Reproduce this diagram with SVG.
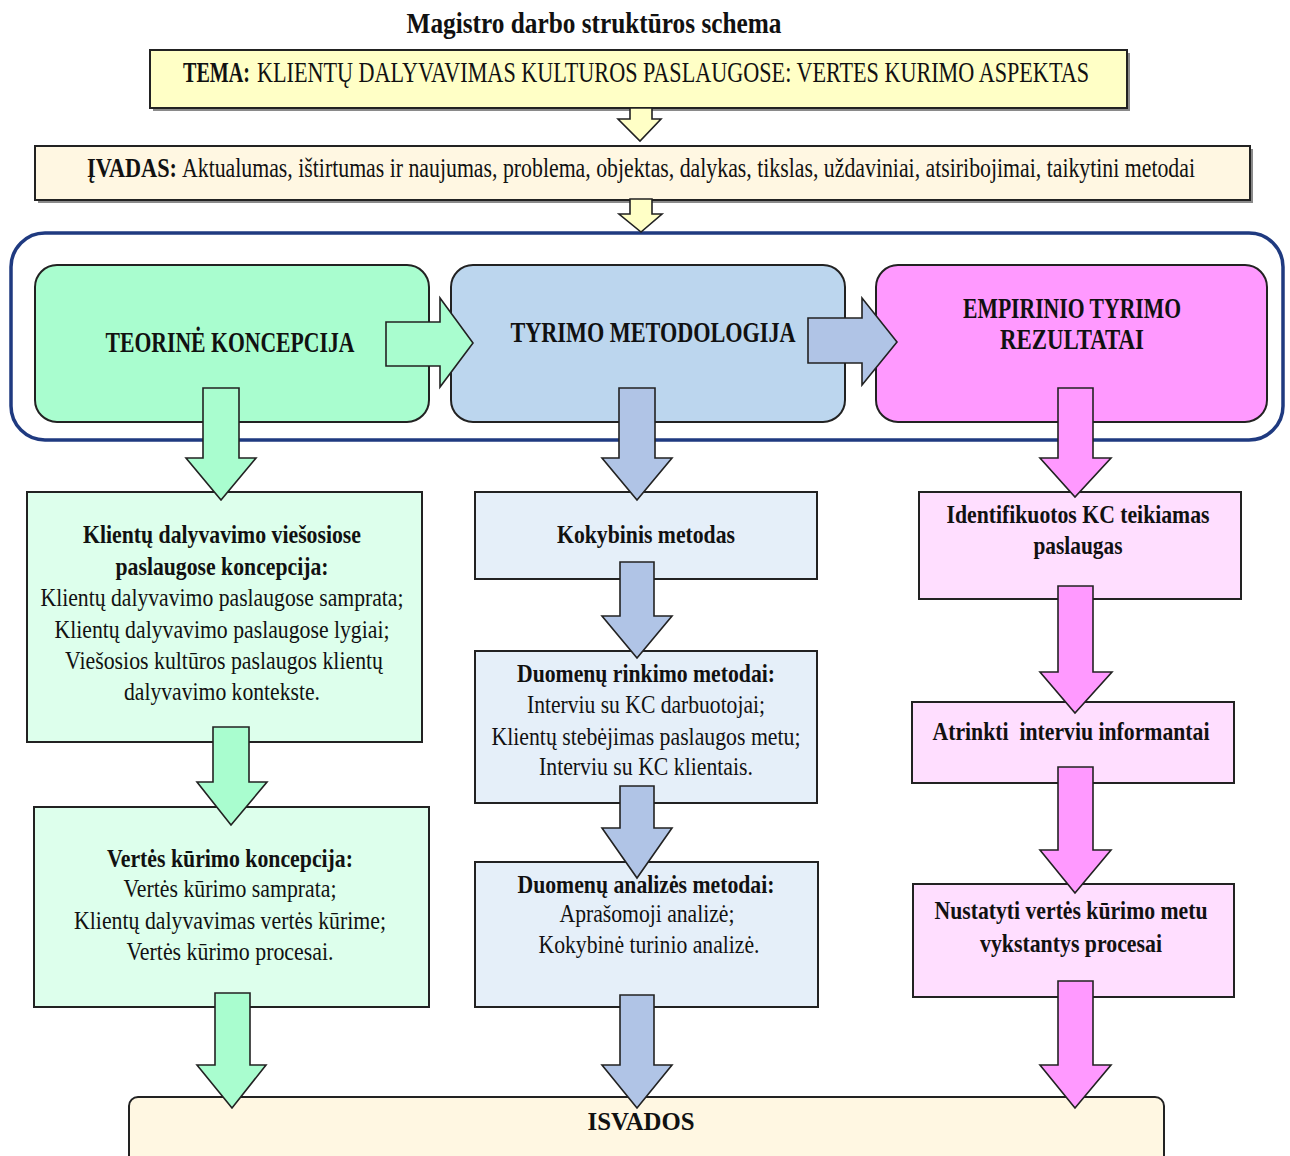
<svg xmlns="http://www.w3.org/2000/svg" width="1290" height="1156" viewBox="0 0 1290 1156">
<style>
text{font-family:"Liberation Serif","Times New Roman",serif;fill:#111;}
.b{font-weight:bold;}
.t{font-size:26px;}
.box{stroke:#222;stroke-width:2;}
.arr{stroke:#222;stroke-width:1.6;stroke-linejoin:miter;}
.g{fill:#A9FDCF;} .gl{fill:#DDFFEC;}
.bl{fill:#BCD6EE;} .bll{fill:#E5EFF9;} .ba{fill:#B0C4E6;}
.p{fill:#FF99FF;} .pl{fill:#FFDEFF;}
.y{fill:#FFFFC6;} .c{fill:#FFF7E2;}
.sh{fill:#8a8a8a;}
</style>
<rect width="1290" height="1156" fill="#fff"/>
<text x="594" y="33" text-anchor="middle" class="b" font-size="29" textLength="375" lengthAdjust="spacingAndGlyphs">Magistro darbo struktūros schema</text>

<g id="tema">
<rect x="153" y="53" width="977" height="58" class="sh"/>
<rect x="150" y="50" width="977" height="58" class="box y"/>
<text transform="translate(183,82) scale(1,1.45)" class="b" font-size="20" textLength="67" lengthAdjust="spacingAndGlyphs">TEMA:</text>
<text transform="translate(257,82) scale(1,1.45)" font-size="20" textLength="832" lengthAdjust="spacingAndGlyphs">KLIENTŲ DALYVAVIMAS KULTUROS PASLAUGOSE: VERTES KURIMO ASPEKTAS</text>
</g>
<g id="ivadas">
<rect x="38" y="149" width="1215" height="54" class="sh"/>
<rect x="35" y="146" width="1215" height="54" class="box c"/>
<text transform="translate(87,177) scale(1,1.33)" class="b" font-size="21" textLength="90" lengthAdjust="spacingAndGlyphs">ĮVADAS:</text>
<text transform="translate(182,177) scale(1,1.33)" font-size="21" textLength="1013" lengthAdjust="spacingAndGlyphs">Aktualumas, ištirtumas ir naujumas, problema, objektas, dalykas, tikslas, uždaviniai, atsiribojimai, taikytini metodai</text>
</g>

<g id="container">
<rect x="11" y="233" width="1272" height="207" rx="34" fill="#fff" stroke="#1F3A80" stroke-width="3.5"/>
</g>

<g id="teorine">
<rect x="35" y="265" width="394" height="157" rx="22" class="box g"/>
<text x="230" y="352" text-anchor="middle" class="b" font-size="29" textLength="249" lengthAdjust="spacingAndGlyphs">TEORINĖ KONCEPCIJA</text>
</g>
<g id="metodologija">
<rect x="451" y="265" width="394" height="157" rx="22" class="box bl"/>
<text x="653" y="342" text-anchor="middle" class="b" font-size="29" textLength="285" lengthAdjust="spacingAndGlyphs">TYRIMO METODOLOGIJA</text>
</g>
<g id="empirinio">
<rect x="876" y="265" width="391" height="157" rx="22" class="box p"/>
<text x="1072" y="318" text-anchor="middle" class="b" font-size="29" textLength="218" lengthAdjust="spacingAndGlyphs">EMPIRINIO TYRIMO</text>
<text x="1072" y="349" text-anchor="middle" class="b" font-size="29" textLength="144" lengthAdjust="spacingAndGlyphs">REZULTATAI</text>
</g>

<g id="klientu-koncepcija">
<rect x="27" y="492" width="395" height="250" class="box gl"/>
<g class="t" text-anchor="middle">
<text x="222" y="543" class="b" textLength="278" lengthAdjust="spacingAndGlyphs">Klientų dalyvavimo viešosiose</text>
<text x="222" y="575" class="b" textLength="213" lengthAdjust="spacingAndGlyphs">paslaugose koncepcija:</text>
<text x="222" y="606" textLength="363" lengthAdjust="spacingAndGlyphs">Klientų dalyvavimo paslaugose samprata;</text>
<text x="222" y="638" textLength="335" lengthAdjust="spacingAndGlyphs">Klientų dalyvavimo paslaugose lygiai;</text>
<text x="224" y="669" textLength="318" lengthAdjust="spacingAndGlyphs">Viešosios kultūros paslaugos klientų</text>
<text x="222" y="700" textLength="196" lengthAdjust="spacingAndGlyphs">dalyvavimo kontekste.</text>
</g>
</g>
<g id="vertes-koncepcija">
<rect x="34" y="807" width="395" height="200" class="box gl"/>
<g class="t" text-anchor="middle">
<text x="230" y="867" class="b" textLength="246" lengthAdjust="spacingAndGlyphs">Vertės kūrimo koncepcija:</text>
<text x="230" y="897" textLength="213" lengthAdjust="spacingAndGlyphs">Vertės kūrimo samprata;</text>
<text x="230" y="929" textLength="312" lengthAdjust="spacingAndGlyphs">Klientų dalyvavimas vertės kūrime;</text>
<text x="230" y="960" textLength="207" lengthAdjust="spacingAndGlyphs">Vertės kūrimo procesai.</text>
</g>
</g>

<g id="kokybinis">
<rect x="475" y="492" width="342" height="87" class="box bll"/>
<text x="646" y="543" text-anchor="middle" class="t b" textLength="178" lengthAdjust="spacingAndGlyphs">Kokybinis metodas</text>
</g>
<g id="rinkimo">
<rect x="475" y="651" width="342" height="152" class="box bll"/>
<g class="t" text-anchor="middle">
<text x="646" y="682" class="b" textLength="258" lengthAdjust="spacingAndGlyphs">Duomenų rinkimo metodai:</text>
<text x="646" y="713" textLength="238" lengthAdjust="spacingAndGlyphs">Interviu su KC darbuotojai;</text>
<text x="646" y="745" textLength="309" lengthAdjust="spacingAndGlyphs">Klientų stebėjimas paslaugos metu;</text>
<text x="646" y="775" textLength="214" lengthAdjust="spacingAndGlyphs">Interviu su KC klientais.</text>
</g>
</g>
<g id="analizes">
<rect x="475" y="862" width="343" height="145" class="box bll"/>
<g class="t" text-anchor="middle">
<text x="646" y="893" class="b" textLength="257" lengthAdjust="spacingAndGlyphs">Duomenų analizės metodai:</text>
<text x="647" y="922" textLength="175" lengthAdjust="spacingAndGlyphs">Aprašomoji analizė;</text>
<text x="649" y="953" textLength="221" lengthAdjust="spacingAndGlyphs">Kokybinė turinio analizė.</text>
</g>
</g>

<g id="identifikuotos">
<rect x="919" y="492" width="322" height="107" class="box pl"/>
<text x="1078" y="523" text-anchor="middle" class="t b" textLength="263" lengthAdjust="spacingAndGlyphs">Identifikuotos KC teikiamas</text>
<text x="1078" y="554" text-anchor="middle" class="t b" textLength="89" lengthAdjust="spacingAndGlyphs">paslaugas</text>
</g>
<g id="atrinkti">
<rect x="912" y="702" width="322" height="81" class="box pl"/>
<text x="1071" y="740" text-anchor="middle" class="t b" textLength="277" lengthAdjust="spacingAndGlyphs" xml:space="preserve">Atrinkti  interviu informantai</text>
</g>
<g id="nustatyti">
<rect x="913" y="884" width="321" height="113" class="box pl"/>
<text x="1071" y="919" text-anchor="middle" class="t b" textLength="273" lengthAdjust="spacingAndGlyphs">Nustatyti vertės kūrimo metu</text>
<text x="1071" y="952" text-anchor="middle" class="t b" textLength="182" lengthAdjust="spacingAndGlyphs">vykstantys procesai</text>
</g>

<g id="isvados">
<rect x="129" y="1097" width="1035" height="80" rx="9" class="box c"/>
<text x="641" y="1130" text-anchor="middle" class="t b" textLength="107" lengthAdjust="spacingAndGlyphs">ISVADOS</text>
</g>

<g id="connectors" class="arr">
<polygon class="y" points="630,108 652,108 652,119 661,119 640,141 618,119 630,119"/>
<polygon class="y" points="630,199 652,199 652,214 662,214 641,232 619,214 630,214"/>
<polygon class="g" points="386,322 440,322 440,298 473,343 440,387 440,366 386,366"/>
<polygon class="ba" points="808,318 862,318 862,298 897,342 862,385 862,363 808,363"/>
<polygon class="g" points="203,388 239,388 239,458 256,458 221,500 186,458 203,458"/>
<polygon class="ba" points="619,388 655,388 655,458 672,458 637,500 602,458 619,458"/>
<polygon class="p" points="1058,388 1093,388 1093,458 1111,458 1075,497 1040,458 1058,458"/>
<polygon class="g" points="213,727 249,727 249,782 267,782 231,825 197,782 213,782"/>
<polygon class="g" points="215,993 250,993 250,1065 266,1065 232,1108 197,1065 215,1065"/>
<polygon class="ba" points="620,562 654,562 654,616 672,616 637,658 602,616 620,616"/>
<polygon class="ba" points="620,786 654,786 654,828 672,828 637,878 602,828 620,828"/>
<polygon class="ba" points="620,995 654,995 654,1065 672,1065 637,1108 602,1065 620,1065"/>
<polygon class="p" points="1058,586 1093,586 1093,672 1112,672 1075,713 1040,672 1058,672"/>
<polygon class="p" points="1058,767 1093,767 1093,850 1111,850 1075,893 1040,850 1058,850"/>
<polygon class="p" points="1058,981 1093,981 1093,1065 1111,1065 1075,1108 1040,1065 1058,1065"/>
</g>
</svg>
